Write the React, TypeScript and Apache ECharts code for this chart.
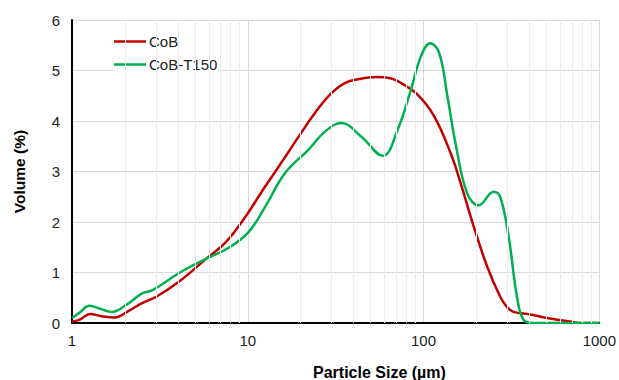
import React, { useEffect, useRef } from "react";
import * as echarts from "echarts";

// Particle size distribution (volume %) for the two samples
const cobSizes = [1, 1.1, 1.27, 1.45, 1.75, 2.1, 2.52, 3.02, 4.07, 5.79, 7.5, 9.9, 12, 14.3, 17, 19.4, 24.1, 29.9, 35.6, 43, 53.8, 64, 74.5, 92.5, 115, 142.7, 162.5, 193, 230, 273, 298, 325, 403, 524, 680, 800, 1000];
const cobVolume = [0.03, 0.06, 0.18, 0.14, 0.11, 0.24, 0.4, 0.52, 0.82, 1.27, 1.6, 2.15, 2.6, 2.99, 3.38, 3.68, 4.16, 4.55, 4.75, 4.83, 4.87, 4.85, 4.75, 4.52, 4.09, 3.36, 2.77, 1.91, 1.12, 0.52, 0.32, 0.22, 0.17, 0.09, 0.03, 0.0, 0.0];

const t150Sizes = [1, 1.1, 1.26, 1.45, 1.68, 2.0, 2.52, 2.87, 4.07, 5.79, 7.8, 10.1, 12.6, 16.3, 22.1, 27.5, 34.1, 44.3, 58.7, 71.3, 84.8, 96.6, 109, 122.7, 136.7, 152, 177, 206, 251, 273, 305, 340, 371, 422, 600, 1000];
const t150Volume = [0.1, 0.2, 0.34, 0.28, 0.22, 0.34, 0.59, 0.65, 0.99, 1.27, 1.49, 1.8, 2.31, 2.97, 3.43, 3.79, 3.96, 3.69, 3.31, 3.83, 4.62, 5.28, 5.54, 5.35, 4.49, 3.56, 2.57, 2.33, 2.6, 2.5, 1.71, 0.52, 0.06, 0, 0, 0];

const seriesNames = ["CoB", "CoB-T150"];
const seriesColors = ["#C00000", "#00B050"];

const yTicks = { min: 0, max: 6, interval: 1 };
const xRange = { min: 1, max: 1000 };

// Log-paper minor gridlines at 2..9 of every decade
const minorGrid: number[] = [];
for (let decade = 1; decade < 1000; decade *= 10) {
  for (let m = 2; m <= 9; m++) minorGrid.push(m * decade);
}

const zip = (xs: number[], ys: number[]) => xs.map((x, i) => [x, ys[i]]);

export default function App() {
  const ref = useRef<HTMLDivElement>(null);

  useEffect(() => {
    if (!ref.current) return;
    const chart = echarts.init(ref.current, null, { renderer: "svg" });
    const font = "'Liberation Sans', Arial, sans-serif";

    chart.setOption({
      animation: false,
      textStyle: { fontFamily: font },
      grid: { left: 72, right: 16, top: 20, bottom: 57, containLabel: false },
      legend: {
        data: seriesNames.map((name) => ({ name, icon: "rect" })),
        orient: "vertical",
        left: 113,
        top: 30,
        padding: [4, 3, 6, 1],
        backgroundColor: "#fff",
        itemWidth: 32,
        itemHeight: 2.5,
        itemGap: 8,
        textStyle: { fontSize: 15, color: "#222", fontFamily: font, padding: [0, 0, 0, -2] },
      },
      xAxis: {
        type: "log",
        logBase: 10,
        min: xRange.min,
        max: xRange.max,
        axisLine: { show: true, onZero: false, lineStyle: { color: "#000", width: 2 } },
        axisTick: { show: false },
        axisLabel: {
          fontSize: 15,
          color: "#222",
          margin: 10,
          fontFamily: font,
          formatter: (v: number) => String(v),
        },
        splitLine: { show: true, lineStyle: { color: "#d9d9d9", width: 1 } },
      },
      yAxis: {
        type: "value",
        min: yTicks.min,
        max: yTicks.max,
        interval: yTicks.interval,
        name: "Volume (%)",
        nameLocation: "middle",
        nameGap: 45,
        nameTextStyle: { fontSize: 15.5, fontWeight: "bold", color: "#000", fontFamily: font },
        axisLine: { show: true, lineStyle: { color: "#000", width: 2 } },
        axisTick: { show: false },
        axisLabel: { fontSize: 15, color: "#222", margin: 12, fontFamily: font },
        splitLine: { show: true, lineStyle: { color: "#d9d9d9", width: 1 } },
      },
      graphic: [
        {
          type: "text",
          left: 313,
          top: 364,
          style: {
            text: "Particle Size (µm)",
            font: `bold 16px ${font}`,
            fill: "#000",
          },
        },
      ],
      series: [
        {
          name: "minor-grid",
          type: "line",
          data: [],
          silent: true,
          z: 0,
          markLine: {
            silent: true,
            symbol: "none",
            label: { show: false },
            lineStyle: { color: "#ececec", width: 1, type: "solid" },
            data: minorGrid.map((v) => ({ xAxis: v })),
          },
        },
        {
          name: seriesNames[0],
          type: "line",
          data: zip(cobSizes, cobVolume),
          smooth: 0.4,
          symbol: "none",
          z: 3,
          lineStyle: { color: seriesColors[0], width: 2.5 },
          itemStyle: { color: seriesColors[0] },
        },
        {
          name: seriesNames[1],
          type: "line",
          data: zip(t150Sizes, t150Volume),
          smooth: 0.4,
          symbol: "none",
          z: 4,
          lineStyle: { color: seriesColors[1], width: 2.5 },
          itemStyle: { color: seriesColors[1] },
        },
      ],
    });

    return () => chart.dispose();
  }, []);

  return (
    <div
      ref={ref}
      style={{ position: "fixed", left: 0, top: 0, width: 619, height: 380, background: "#fff" }}
    />
  );
}
